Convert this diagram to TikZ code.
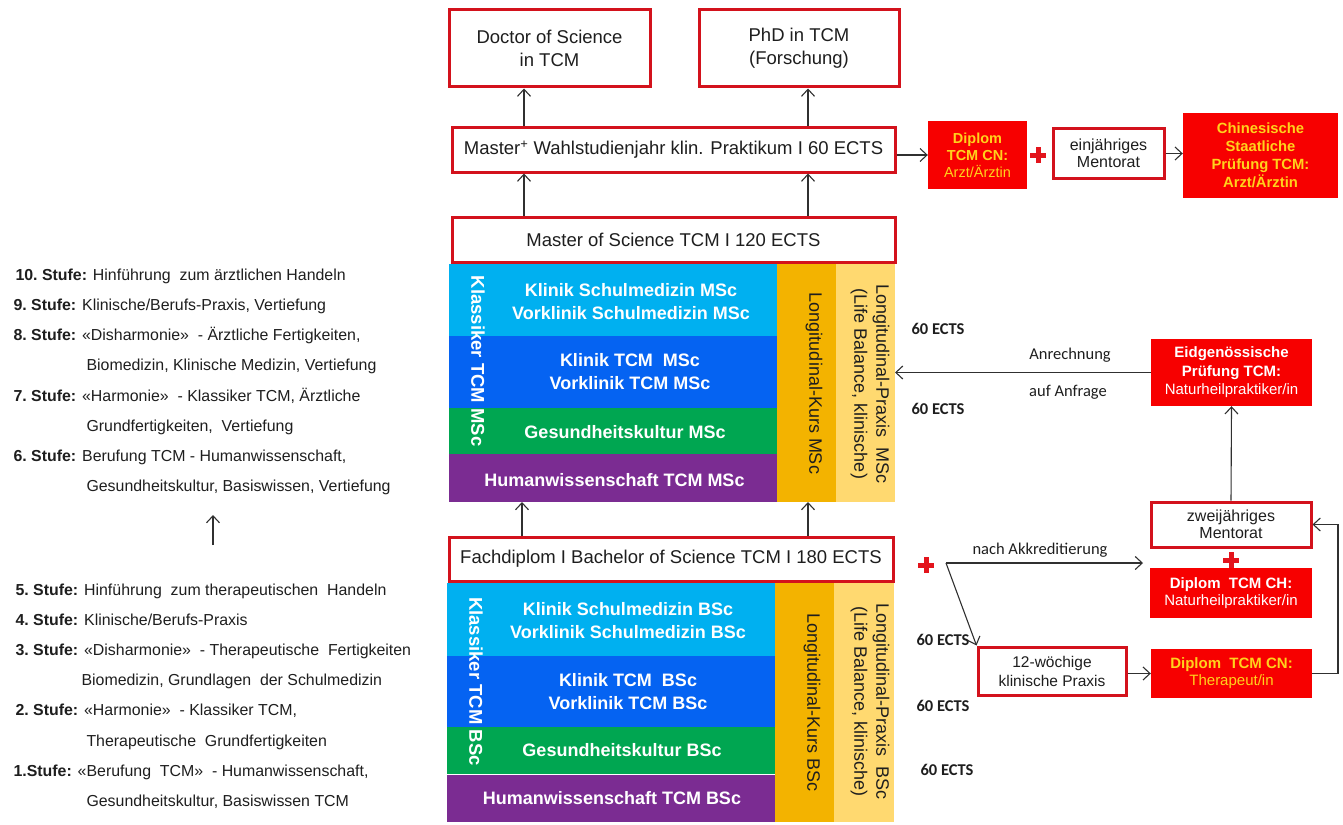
\documentclass[tikz,border=0pt]{standalone}
\usepackage{fontspec}
\setmainfont{Liberation Sans}
\newfontfamily\calibri{Carlito}
\usetikzlibrary{arrows.meta}
\definecolor{boxred}{HTML}{D3121C}
\definecolor{fillred}{HTML}{F70000}
\definecolor{plusred}{HTML}{E3141C}
\definecolor{ltblue}{HTML}{00B0F0}
\definecolor{midblue}{HTML}{0563F2}
\definecolor{grn}{HTML}{00A651}
\definecolor{purp}{HTML}{7B2C92}
\definecolor{orng}{HTML}{F3B300}
\definecolor{ltyel}{HTML}{FFD970}
\definecolor{txtyel}{HTML}{FFD21C}
\definecolor{linegray}{HTML}{303030}
\definecolor{txt}{HTML}{1E1E1E}
\newcommand\setfs[2]{\fontsize{#1}{#2}\selectfont}
\begin{document}
\begin{tikzpicture}[x=1pt,y=-1pt,
  rectxy/.style n args={4}{at={({(#1+#3)/2},{(#2+#4)/2})},minimum width={#3-#1},minimum height={#4-#2}},
  wbox/.style={draw=boxred,line width=3pt,fill=white,inner sep=0pt,align=center,text=txt},
  rbox/.style={fill=fillred,inner sep=0pt,align=center},
  blk/.style={inner sep=0pt,outer sep=0pt},
  btxt/.style={text=white,align=center,font=\bfseries\setfs{18}{23}},
  vtxt/.style={rotate=-90,align=center,text=txt,font=\setfs{18}{22}},
  ktxt/.style={rotate=-90,text=white,font=\bfseries\setfs{18.5}{22}},
  arr/.style={draw=linegray,line width=1.1pt,-{Straight Barb[length=7pt,width=13pt]}},
  lab/.style={anchor=base west,text=txt,font=\setfs{15.9}{20}},
  ects/.style={anchor=west,text=txt,font=\calibri\bfseries\setfs{16.5}{20}},
  note/.style={text=txt,font=\calibri\setfs{16.5}{20}},
  redplus/.style={minimum size=16pt,inner sep=0pt,path picture={\draw[plusred,line width=5pt]
     (path picture bounding box.north)--(path picture bounding box.south)
     (path picture bounding box.west)--(path picture bounding box.east);}}
]
\useasboundingbox (0,0) rectangle (1343,824);

% ---------- top boxes ----------
\node[wbox,rectxy={449}{10}{650}{87},font=\setfs{18.5}{23}] (doc) {Doctor of Science\\in TCM};
\node[wbox,rectxy={699}{10}{899}{87},font=\setfs{18.5}{23}] (phd) {PhD in TCM\\(Forschung)};
\node[wbox,rectxy={452}{128}{895}{172},font=\setfs{18.5}{23}] (mplus) {Master\textsuperscript{+} Wahlstudienjahr klin. Praktikum I 60 ECTS};
\node[wbox,rectxy={452}{217}{895}{262},font=\setfs{18.5}{23}] (msc) {Master of Science TCM I 120 ECTS};

% ---------- top right ----------
\node[rbox,rectxy={928}{121}{1027}{189},text=txtyel,font=\setfs{14.5}{17}] (dcn) {\textbf{Diplom}\\\textbf{TCM CN:}\\Arzt/Ärztin};
\node[redplus] (plusA) at (1038,155) {};
\node[wbox,rectxy={1053}{129}{1164}{178},font=\setfs{16}{17}] (ein) {einjähriges\\Mentorat};
\node[rbox,rectxy={1183}{113}{1338}{198},text=txtyel,font=\bfseries\setfs{14.8}{18}] (chin) {Chinesische\\Staatliche\\Prüfung TCM:\\Arzt/Ärztin};

% ---------- MSc stack ----------
\node[blk,fill=ltblue,rectxy={449}{264}{777}{336}] (mlb) {};
\node[blk,fill=midblue,rectxy={449}{336}{777}{408}] (mbl) {};
\node[blk,fill=grn,rectxy={449}{408}{777}{454}] (mgr) {};
\node[blk,fill=purp,rectxy={449}{454}{777}{502}] (mpu) {};
\node[blk,fill=orng,rectxy={777}{264}{836}{502}] (mor) {};
\node[blk,fill=ltyel,rectxy={836}{264}{895}{502}] (mye) {};
\node[btxt] (mlbt) at (631,301.5) {Klinik Schulmedizin MSc\\Vorklinik Schulmedizin MSc};
\node[btxt] (mblt) at (630,372) {Klinik TCM\ \ MSc\\Vorklinik TCM MSc};
\node[btxt] (mgrt) at (625,432) {Gesundheitskultur MSc};
\node[btxt] (mput) at (614.5,480) {Humanwissenschaft TCM MSc};
\node[ktxt] (mkl) at (478,361) {Klassiker TCM MSc};
\node[vtxt] (mort) at (814,383.5) {Longitudinal-Kurs MSc};
\node[vtxt] (myet) at (870,384) {Longitudinal-Praxis\ \ MSc\\(Life Balance, klinische)};

% ---------- Bachelor ----------
\node[wbox,rectxy={449}{537}{893}{581},font=\setfs{18.5}{23}] (bach) {Fachdiplom I Bachelor of Science TCM I 180 ECTS};
\node[blk,fill=ltblue,rectxy={447}{583}{775}{656}] (blb) {};
\node[blk,fill=midblue,rectxy={447}{656}{775}{727}] (bbl) {};
\node[blk,fill=grn,rectxy={447}{727}{775}{774}] (bgr) {};
\node[blk,fill=purp,rectxy={447}{775}{775}{822}] (bpu) {};
\node[blk,fill=orng,rectxy={775}{583}{834}{822}] (bor) {};
\node[blk,fill=ltyel,rectxy={834}{583}{894}{822}] (bye) {};
\node[btxt] (blbt) at (628,621) {Klinik Schulmedizin BSc\\Vorklinik Schulmedizin BSc};
\node[btxt] (bblt) at (628,691.5) {Klinik TCM\ \ BSc\\Vorklinik TCM BSc};
\node[btxt] (bgrt) at (622,750) {Gesundheitskultur BSc};
\node[btxt] (bput) at (612,798) {Humanwissenschaft TCM BSc};
\node[ktxt] (bkl) at (476,681.5) {Klassiker TCM BSc};
\node[vtxt] (bort) at (812,702.5) {Longitudinal-Kurs BSc};
\node[vtxt] (byet) at (870,701.5) {Longitudinal-Praxis\ \ BSc\\(Life Balance, klinische)};

% ---------- right side ----------
\node[rbox,rectxy={1151}{339}{1312}{406},text=white,font=\setfs{15}{18.5}] (eidg) {\textbf{Eidgenössische}\\\textbf{Prüfung TCM:}\\Naturheilpraktiker/in};
\node[wbox,rectxy={1151}{502}{1311}{547},font=\setfs{16}{17}] (zwei) {zweijähriges\\Mentorat};
\node[redplus] (plusB) at (1231,560) {};
\node[rbox,rectxy={1150}{568}{1312}{618},text=white,font=\setfs{15}{17}] (dch) {\textbf{Diplom\ \ TCM CH:}\\Naturheilpraktiker/in};
\node[redplus] (plusC) at (926,565) {};
\node[wbox,rectxy={978}{647}{1126}{695},font=\setfs{15.5}{19}] (wk) {12-wöchige\\klinische Praxis};
\node[rbox,rectxy={1151}{649}{1312}{698},text=txtyel,font=\setfs{15}{17}] (dcnt) {\textbf{Diplom\ \ TCM CN:}\\Therapeut/in};

\node[note] (anr) at (1070,355) {Anrechnung};
\node[note] (anf) at (1068,392) {auf Anfrage};
\node[note] (akk) at (1040,550) {nach Akkreditierung};

\node[ects] (e1) at (908,329) {60 ECTS};
\node[ects] (e2) at (908,409) {60 ECTS};
\node[ects] (e3) at (913,640) {60 ECTS};
\node[ects] (e4) at (913,706) {60 ECTS};
\node[ects] (e5) at (917,770) {60 ECTS};

% ---------- left text ----------
\node[lab] (s10) at (12,280) {\textbf{10.\ Stufe:} Hinführung\ \ zum ärztlichen Handeln};
\node[lab] (s9) at (10,310) {\textbf{9.\ Stufe:} Klinische/Berufs-Praxis, Vertiefung};
\node[lab] (s8) at (10,340) {\textbf{8.\ Stufe:} «Disharmonie»\ \ - Ärztliche Fertigkeiten,};
\node[lab] (s8b) at (83,370) {Biomedizin, Klinische Medizin, Vertiefung};
\node[lab] (s7) at (10,401) {\textbf{7.\ Stufe:} «Harmonie»\ \ - Klassiker TCM, Ärztliche};
\node[lab] (s7b) at (83,431) {Grundfertigkeiten,\ \ Vertiefung};
\node[lab] (s6) at (10,461) {\textbf{6.\ Stufe:} Berufung TCM\ - Humanwissenschaft,};
\node[lab] (s6b) at (83,491) {Gesundheitskultur, Basiswissen, Vertiefung};

\node[lab] (s5) at (12,595) {\textbf{5.\ Stufe:} Hinführung\ \ zum therapeutischen\ \ Handeln};
\node[lab] (s4) at (12,625) {\textbf{4.\ Stufe:} Klinische/Berufs-Praxis};
\node[lab] (s3) at (12,655) {\textbf{3.\ Stufe:} «Disharmonie»\ \ - Therapeutische\ \ Fertigkeiten};
\node[lab] (s3b) at (78,685) {Biomedizin, Grundlagen\ \ der Schulmedizin};
\node[lab] (s2) at (12,715) {\textbf{2.\ Stufe:} «Harmonie»\ \ - Klassiker TCM,};
\node[lab] (s2b) at (83,746) {Therapeutische\ \ Grundfertigkeiten};
\node[lab] (s1) at (10,776) {\textbf{1.Stufe:} «Berufung\ \ TCM»\ \ - Humanwissenschaft,};
\node[lab] (s1b) at (83,806) {Gesundheitskultur, Basiswissen TCM};

% ---------- coordinates ----------
\coordinate (cA) at (524,0);
\coordinate (cB) at (808,0);
\coordinate (cC) at (522,0);
\coordinate (sp) at (946,563);
\coordinate (akkend) at (1143,563);
\coordinate (fb) at (1338,0);
\coordinate (la1) at (213,545);
\coordinate (la2) at (213,515);

% ---------- connectors ----------
\draw[arr] (mplus.north -| cA) -- (doc.south -| cA);
\draw[arr] (mplus.north -| cB) -- (phd.south -| cB);
\draw[arr] (msc.north -| cA) -- (mplus.south -| cA);
\draw[arr] (msc.north -| cB) -- (mplus.south -| cB);
\draw[arr] (bach.north -| cC) -- (mpu.south -| cC);
\draw[arr] (bach.north -| cB) -- (mor.south -| cB);
\draw[arr] (mplus.east |- dcn.west) -- (dcn.west);
\draw[arr] (ein.east) -- (ein.east -| chin.west);
\draw[arr] (eidg.west) -- (eidg.west -| mye.east);
\draw[arr] (zwei.north) -- (eidg.south);
\draw[arr] (sp) -- (akkend);
\draw[arr] (sp) -- (wk.north west);
\draw[arr] (wk.east |- dcnt.west) -- (dcnt.west);
\draw[arr] (dcnt.east) -- (dcnt.east -| fb) |- (zwei.east);
\draw[arr] (la1) -- (la2);
\end{tikzpicture}
\end{document}
